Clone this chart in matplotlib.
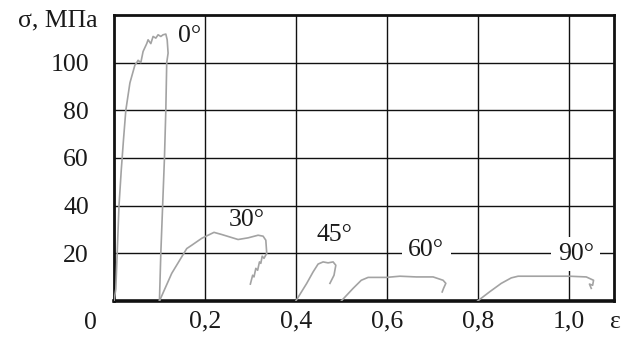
import matplotlib
matplotlib.use("Agg")
import matplotlib.pyplot as plt

# ---- data (strain, stress MPa) ----
eps_0 = [0.0, 0.004, 0.007, 0.011, 0.016, 0.021, 0.026, 0.035, 0.046, 0.050, 0.053, 0.059,
         0.064, 0.072, 0.075, 0.081, 0.086, 0.092, 0.097, 0.103, 0.108, 0.114,
         0.117, 0.119, 0.116, 0.114, 0.111, 0.107, 0.103, 0.100]
sig_0 = [0.0, 5, 20, 40, 55, 68, 80, 91.5, 99, 100, 101, 100,
         104.7, 108, 109.6, 108, 111, 110.3, 111.7, 111, 111.7, 112,
         109.6, 104, 100, 80, 60, 40, 20, 0.3]

eps_30 = [0.100, 0.127, 0.160, 0.171, 0.193, 0.220, 0.237, 0.273, 0.295, 0.317,
          0.328, 0.334, 0.336, 0.330, 0.326, 0.323, 0.320, 0.316, 0.312, 0.308,
          0.305, 0.300]
sig_30 = [0.0, 11.6, 22, 23.4, 26.3, 28.8, 27.9, 25.8, 26.5, 27.6,
          27.2, 25.5, 20, 17.9, 18.8, 15.8, 16.4, 12.9, 13.7, 10.1,
          10.8, 7.1]

eps_45 = [0.400, 0.424, 0.438, 0.449, 0.460, 0.471, 0.482, 0.488, 0.484, 0.475]
sig_45 = [0.0, 7.4, 12.2, 15.5, 16.4, 16.0, 16.4, 15.0, 10.8, 7.4]

eps_60 = [0.500, 0.526, 0.544, 0.559, 0.599, 0.629, 0.665, 0.702, 0.724, 0.730,
          0.725, 0.722]
sig_60 = [0.0, 5.3, 8.7, 9.9, 9.9, 10.4, 10.1, 10.1, 8.7, 7.4, 5.3, 3.8]

eps_90 = [0.800, 0.826, 0.852, 0.874, 0.889, 0.929, 1.002, 1.039, 1.055, 1.053,
          1.046, 1.050]
sig_90 = [0.0, 3.8, 7.4, 9.7, 10.4, 10.4, 10.4, 10.1, 8.7, 6.6, 7.1, 5.3]

x_ticks = [0.2, 0.4, 0.6, 0.8, 1.0]
x_tick_labels = ["0,2", "0,4", "0,6", "0,8", "1,0"]
y_ticks = [20, 40, 60, 80, 100]
y_tick_labels = ["20", "40", "60", "80", "100"]

curve_labels = ["0°", "30°", "45°", "60°", "90°"]
label_pos = [(0.167, 111.3), (0.291, 34.0), (0.486, 27.6), (0.687, 21.3), (1.016, 19.7)]
label_boxed = [False, False, False, True, True]

# ---- plot ----
plt.rcParams["font.family"] = ["Liberation Serif", "DejaVu Serif"]
FS = 18.5

fig = plt.figure(figsize=(6.24, 3.37), dpi=100)
ax = fig.add_axes([114 / 624, 1 - 301 / 337, 500 / 624, 286 / 337])

ax.set_xlim(0, 1.1)
ax.set_ylim(0, 120)
ax.set_xticks(x_ticks)
ax.set_xticklabels(x_tick_labels)
ax.set_yticks(y_ticks)
ax.set_yticklabels(y_tick_labels)
ax.tick_params(length=0, labelsize=FS, colors="#1a1a1a")
ax.tick_params(axis="x", pad=7)
ax.tick_params(axis="y", pad=18)
ax.grid(True, color="#111111", linewidth=1.0, zorder=0)
ax.set_axisbelow(True)
for s in ax.spines.values():
    s.set_linewidth(2.0)
    s.set_color("#111111")
ax.spines["bottom"].set_linewidth(2.6)

gray = "#a3a3a3"
for ex, sy in [(eps_0, sig_0), (eps_30, sig_30), (eps_45, sig_45),
               (eps_60, sig_60), (eps_90, sig_90)]:
    ax.plot(ex, sy, color=gray, linewidth=1.2, zorder=3)

for txt, (lx, ly), boxed in zip(curve_labels, label_pos, label_boxed):
    kw = {}
    if boxed:
        kw["bbox"] = dict(boxstyle="square,pad=0.25", facecolor="white", edgecolor="none")
    ax.text(lx, ly, txt, fontsize=FS, ha="center", va="center", color="#1a1a1a",
            zorder=4, **kw)

fig.text(90 / 624, 1 - 323 / 337, "0", fontsize=FS, ha="center", va="center", color="#1a1a1a")
fig.text(615 / 624, 1 - 322 / 337, "ε", fontsize=FS, ha="center", va="center", color="#1a1a1a")
fig.text(98 / 624, 1 - 20 / 337, "σ, МПа", fontsize=FS, ha="right", va="center", color="#1a1a1a")

fig.savefig("out.png", dpi=100)
